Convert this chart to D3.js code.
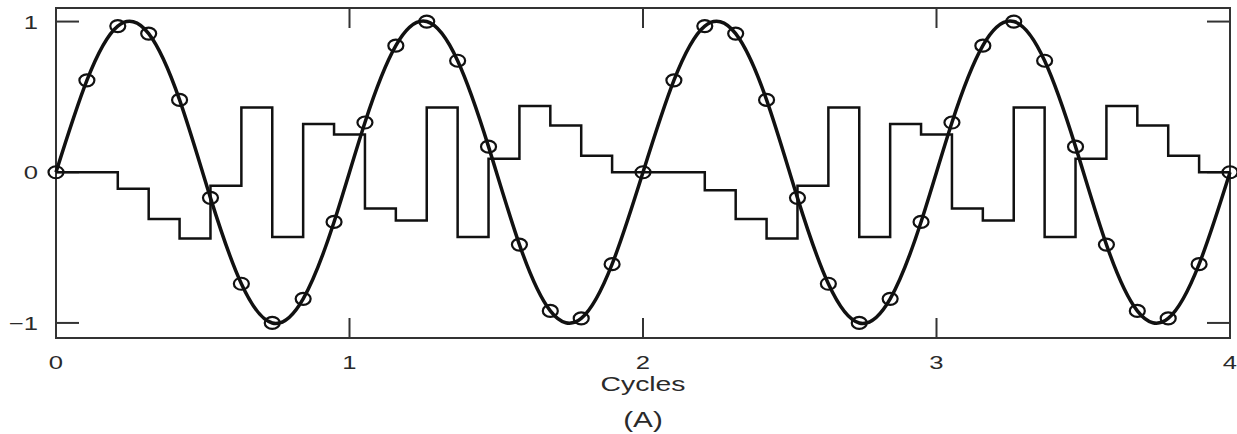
<!DOCTYPE html>
<html>
<head>
<meta charset="utf-8">
<title>Sampled sine (A)</title>
<script src="https://d3js.org/d3.v7.min.js"></script>
<style>
body { margin: 0; background: #fff; }
text { font-family: "Liberation Sans", Arial, Helvetica, sans-serif; fill: #2a2a2a; }
</style>
</head>
<body>
<div id="chart"></div>
<script>
// sample values of the sinusoid (circles), one every 4/38 cycle
var sampleStep = 4 / 38;
var sampleValues = [0, 0.61, 0.97, 0.92, 0.48, -0.17, -0.74, -1.0, -0.84, -0.33,
  0.33, 0.84, 1.0, 0.74, 0.17, -0.48, -0.92, -0.97, -0.61, 0,
  0.61, 0.97, 0.92, 0.48, -0.17, -0.74, -1.0, -0.84, -0.33,
  0.33, 0.84, 1.0, 0.74, 0.17, -0.48, -0.92, -0.97, -0.61, 0];
// held (staircase) values, one per sample interval, last one is the end point
var stepValues = [0, 0, -0.11, -0.31, -0.44, -0.09, 0.43, -0.43, 0.32, 0.25,
  -0.24, -0.32, 0.43, -0.43, 0.09, 0.44, 0.31, 0.11, 0,
  0, 0, -0.12, -0.31, -0.44, -0.09, 0.43, -0.43, 0.32, 0.25,
  -0.24, -0.32, 0.43, -0.43, 0.09, 0.44, 0.31, 0.11, 0, 0];
var xTicks = [0, 1, 2, 3, 4];
var yTicks = [-1, 0, 1];
var xLabel = "Cycles";
var caption = "(A)";

var width = 1237, height = 434;
var svg = d3.select("#chart").append("svg")
  .attr("width", width).attr("height", height);

var x = d3.scaleLinear().domain([0, 4]).range([56, 1230]);
var y = d3.scaleLinear().domain([-1.1, 1.09]).range([338, 8]);
var stretch = 1.35; // the lettering in the figure is wide

var samples = sampleValues.map((v, i) => ({t: i * sampleStep, v: v}));
var steps = stepValues.map((v, i) => ({t: i * sampleStep, v: v}));

// frame
svg.append("rect")
  .attr("x", x(0)).attr("y", y(1.09))
  .attr("width", x(4) - x(0)).attr("height", y(-1.1) - y(1.09))
  .attr("fill", "none").attr("stroke", "#333").attr("stroke-width", 2);

// inward ticks
var ticks = svg.append("g").attr("stroke", "#333").attr("stroke-width", 2);
xTicks.forEach(t => {
  ticks.append("line").attr("x1", x(t)).attr("x2", x(t)).attr("y1", y(-1.1)).attr("y2", y(-1.1) - 20);
  ticks.append("line").attr("x1", x(t)).attr("x2", x(t)).attr("y1", y(1.09)).attr("y2", y(1.09) + 20);
});
yTicks.forEach(t => {
  ticks.append("line").attr("x1", x(0)).attr("x2", x(0) + 23).attr("y1", y(t)).attr("y2", y(t));
  ticks.append("line").attr("x1", x(4)).attr("x2", x(4) - 23).attr("y1", y(t)).attr("y2", y(t));
});

// tick labels
xTicks.forEach(t => {
  svg.append("text")
    .attr("transform", "translate(" + x(t) + "," + 369 + ") scale(" + stretch + ",1)")
    .attr("text-anchor", "middle").attr("font-size", 19)
    .text(t);
});
yTicks.forEach(t => {
  svg.append("text")
    .attr("transform", "translate(" + 38 + "," + (y(t) + 7) + ") scale(" + stretch + ",1)")
    .attr("text-anchor", "end").attr("font-size", 19)
    .text(t < 0 ? "\u2212" + Math.abs(t) : t);
});

svg.append("text")
  .attr("transform", "translate(" + x(2) + ",391) scale(" + stretch + ",1)")
  .attr("text-anchor", "middle").attr("font-size", 21)
  .text(xLabel);
svg.append("text")
  .attr("transform", "translate(" + x(2) + ",427) scale(" + stretch + ",1)")
  .attr("text-anchor", "middle").attr("font-size", 22)
  .text(caption);

// staircase
svg.append("path")
  .datum(steps)
  .attr("d", d3.line().x(d => x(d.t)).y(d => y(d.v)).curve(d3.curveStepAfter))
  .attr("fill", "none").attr("stroke", "#111").attr("stroke-width", 2.5);

// sinusoid through the samples
svg.append("path")
  .datum(samples)
  .attr("d", d3.line().x(d => x(d.t)).y(d => y(d.v)).curve(d3.curveNatural))
  .attr("fill", "none").attr("stroke", "#111").attr("stroke-width", 3.5);

// sample markers
svg.selectAll(".sample")
  .data(samples)
  .join("ellipse")
  .classed("sample", true)
  .attr("cx", d => x(d.t)).attr("cy", d => y(d.v))
  .attr("rx", 7.5).attr("ry", 6)
  .attr("fill", "none").attr("stroke", "#111").attr("stroke-width", 2.2);
</script>
</body>
</html>
